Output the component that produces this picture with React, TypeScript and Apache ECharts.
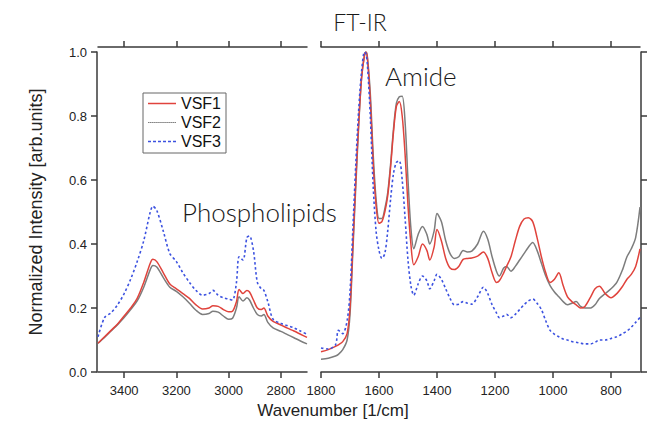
import React, { useEffect, useRef } from "react";
import * as echarts from "echarts";

// ---------- data ----------
const seriesNames = ["VSF1", "VSF2", "VSF3"];

const leftWn = [3500, 3475, 3450, 3425, 3400, 3375, 3350, 3325, 3300, 3290, 3275, 3250, 3225, 3200, 3175, 3150, 3125, 3100, 3075, 3060, 3040, 3020, 3000, 2985, 2970, 2960, 2945, 2930, 2920, 2905, 2890, 2875, 2865, 2850, 2830, 2800, 2775, 2750, 2725, 2700];
const vsf1Left = [0.09, 0.11, 0.13, 0.15, 0.175, 0.2, 0.23, 0.28, 0.34, 0.352, 0.345, 0.31, 0.275, 0.26, 0.245, 0.23, 0.21, 0.197, 0.2, 0.207, 0.205, 0.195, 0.188, 0.19, 0.22, 0.258, 0.245, 0.255, 0.25, 0.225, 0.2, 0.195, 0.2, 0.175, 0.158, 0.147, 0.137, 0.128, 0.118, 0.108];
const vsf2Left = [0.09, 0.108, 0.128, 0.148, 0.17, 0.195, 0.222, 0.265, 0.32, 0.333, 0.328, 0.295, 0.265, 0.252, 0.235, 0.215, 0.193, 0.18, 0.183, 0.19, 0.187, 0.175, 0.165, 0.168, 0.2, 0.235, 0.222, 0.232, 0.225, 0.2, 0.18, 0.175, 0.18, 0.155, 0.138, 0.127, 0.117, 0.107, 0.097, 0.088];
const vsf3Left = [0.11, 0.17, 0.185, 0.21, 0.245, 0.29, 0.345, 0.41, 0.5, 0.518, 0.505, 0.44, 0.37, 0.345, 0.31, 0.28, 0.255, 0.24, 0.245, 0.255, 0.24, 0.232, 0.228, 0.225, 0.28, 0.36, 0.35, 0.42, 0.425, 0.38, 0.28, 0.26, 0.255, 0.22, 0.165, 0.152, 0.145, 0.138, 0.128, 0.118];

const rightWn = [1800, 1775, 1750, 1740, 1725, 1710, 1700, 1690, 1680, 1670, 1660, 1650, 1645, 1640, 1630, 1620, 1610, 1600, 1590, 1580, 1570, 1560, 1550, 1540, 1530, 1520, 1510, 1500, 1490, 1480, 1465, 1450, 1435, 1425, 1410, 1400, 1385, 1370, 1355, 1340, 1325, 1310, 1295, 1280, 1260, 1240, 1225, 1210, 1195, 1185, 1170, 1160, 1145, 1130, 1115, 1100, 1085, 1070, 1055, 1040, 1025, 1010, 995, 980, 965, 950, 935, 920, 905, 890, 870, 855, 840, 820, 800, 780, 760, 745, 730, 715, 700];
const vsf1Right = [0.063, 0.07, 0.08, 0.085, 0.095, 0.12, 0.2, 0.4, 0.6, 0.78, 0.92, 0.99, 1.0, 0.98, 0.85, 0.65, 0.52, 0.465, 0.47, 0.5, 0.55, 0.64, 0.75, 0.83, 0.845, 0.8, 0.68, 0.52, 0.4, 0.335, 0.36, 0.4, 0.38, 0.35, 0.39, 0.445, 0.41, 0.355, 0.325, 0.32, 0.33, 0.352, 0.355, 0.356, 0.362, 0.375, 0.355, 0.31, 0.28, 0.285, 0.31, 0.33, 0.36, 0.41, 0.455, 0.478, 0.482, 0.47, 0.42, 0.36, 0.31, 0.28, 0.29, 0.31, 0.27, 0.235, 0.22, 0.21, 0.2, 0.205, 0.235, 0.26, 0.268, 0.245, 0.232, 0.245, 0.268, 0.29, 0.305, 0.33, 0.385];
const vsf2Right = [0.04, 0.043, 0.05, 0.055, 0.07, 0.1, 0.18, 0.38, 0.58, 0.77, 0.92, 0.99, 1.0, 0.985, 0.87, 0.68, 0.54, 0.48, 0.48, 0.51, 0.56, 0.65, 0.76, 0.84, 0.86, 0.862, 0.78, 0.6, 0.45, 0.385, 0.43, 0.455, 0.43, 0.4, 0.44, 0.495, 0.47, 0.41, 0.37, 0.355, 0.36, 0.38, 0.375, 0.378, 0.4, 0.44, 0.415, 0.36, 0.315, 0.3, 0.325, 0.33, 0.315, 0.33, 0.35, 0.37, 0.39, 0.405, 0.38, 0.34, 0.3, 0.27, 0.25, 0.235, 0.22, 0.21, 0.215, 0.22, 0.205, 0.2, 0.2, 0.21, 0.23, 0.245, 0.26, 0.28, 0.32, 0.36, 0.385, 0.42, 0.515];
const vsf3Right = [0.075, 0.072, 0.085, 0.13, 0.12, 0.16, 0.25, 0.45, 0.65, 0.82, 0.94, 1.0, 0.995, 0.96, 0.8, 0.58, 0.44, 0.38, 0.355, 0.37, 0.44, 0.54, 0.62, 0.655, 0.66, 0.6, 0.48, 0.35, 0.27, 0.24, 0.275, 0.3, 0.285, 0.26, 0.285, 0.305, 0.29, 0.26, 0.23, 0.21, 0.212, 0.22, 0.215, 0.212, 0.235, 0.265, 0.245, 0.21, 0.185, 0.17, 0.175, 0.18, 0.17, 0.18, 0.195, 0.21, 0.222, 0.228, 0.215, 0.195, 0.16, 0.13, 0.118, 0.11, 0.103, 0.1, 0.095, 0.093, 0.09, 0.088, 0.088, 0.093, 0.1, 0.1, 0.105, 0.11, 0.12, 0.128, 0.14, 0.155, 0.17];

const leftTicks = [3400, 3200, 3000, 2800];
const rightTicks = [1800, 1600, 1400, 1200, 1000, 800];

const colors = { VSF1: "#e0433c", VSF2: "#7d7d7d", VSF3: "#3c52e0" };

// ---------- chart ----------
const AXIS_COLOR = "#3a3a3a";
const FONT = "'Liberation Sans', Arial, sans-serif";

const SOLID_ICON = "path://M0,0h28v1.5h-28z";
const DOTTED_ICON = "path://M0,0h1.6v1.2h-1.6z" + Array.from({ length: 13 }, (_, i) => `M${(i + 1) * 2.1},0h1.6v1.2h-1.6z`).join("");
const DASHED_ICON = "path://" + Array.from({ length: 6 }, (_, i) => `M${i * 5},0h3v1.6h-3z`).join("");

function xAxisDef(gridIndex: number, position: "top" | "bottom", min: number, max: number, ticks: number[], showLabels: boolean) {
  return {
    type: "value",
    gridIndex,
    position,
    min,
    max,
    inverse: true,
    offset: position === "top" ? 5 : 2,
    splitLine: { show: false },
    axisLine: { show: true, lineStyle: { color: AXIS_COLOR, width: 1.5 } },
    axisTick: { show: true, inside: false, length: 6, customValues: ticks, lineStyle: { color: AXIS_COLOR, width: 1.5 } },
    axisLabel: {
      show: showLabels,
      customValues: ticks,
      margin: 10,
      fontSize: 13,
      fontFamily: FONT,
      color: "#222",
      formatter: (v: number) => String(v),
    },
  };
}

function pairs(xs: number[], ys: number[]) {
  return xs.map((x, i) => [x, ys[i]]);
}

function lineSeries(name: string, xIdx: number, yIdx: number, data: number[][]) {
  const c = (colors as any)[name];
  return {
    type: "line",
    name,
    xAxisIndex: xIdx,
    yAxisIndex: yIdx,
    data,
    symbol: "none",
    smooth: 0.3,
    clip: true,
    lineStyle: {
      color: c,
      width: name === "VSF3" ? 1.6 : 1.5,
      type: name === "VSF3" ? [2.5, 2.5] : "solid",
    },
    itemStyle: { color: c },
  };
}

export default function App() {
  const ref = useRef<HTMLDivElement>(null);

  useEffect(() => {
    if (!ref.current) return;
    const chart = echarts.init(ref.current, null, { renderer: "svg" });

    const yCommon = {
      type: "value",
      min: 0,
      max: 1,
      interval: 0.2,
      splitLine: { show: false },
      axisLine: { show: true, lineStyle: { color: AXIS_COLOR, width: 1.5 } },
      axisTick: { show: true, inside: false, length: 6, lineStyle: { color: AXIS_COLOR, width: 1.5 } },
    };

    const option = {
      animation: false,
      backgroundColor: "#fff",
      grid: [
        { left: 98, top: 52, width: 209, height: 320 },
        { left: 321, top: 52, width: 319, height: 320 },
      ],
      xAxis: [
        xAxisDef(0, "bottom", 2700, 3500, leftTicks, true),
        xAxisDef(0, "top", 2700, 3500, leftTicks, false),
        xAxisDef(1, "bottom", 700, 1800, rightTicks, true),
        xAxisDef(1, "top", 700, 1800, rightTicks, false),
      ],
      yAxis: [
        {
          ...yCommon,
          gridIndex: 0,
          position: "left",
          offset: 1,
          name: "Normalized Intensity [arb.units]",
          nameLocation: "middle",
          nameGap: 52,
          nameTextStyle: { fontSize: 18, fontFamily: FONT, color: "#222" },
          axisLabel: {
            show: true,
            margin: 10,
            fontSize: 13,
            fontFamily: FONT,
            color: "#222",
            formatter: (v: number) => v.toFixed(1),
          },
        },
        {
          ...yCommon,
          gridIndex: 1,
          position: "right",
          offset: 1,
          axisLabel: { show: false },
        },
      ],
      legend: {
        data: [
          { name: "VSF1", icon: SOLID_ICON },
          { name: "VSF2", icon: DOTTED_ICON },
          { name: "VSF3", icon: DASHED_ICON },
        ],
        orient: "vertical",
        left: 143,
        top: 93,
        itemWidth: 28,
        itemHeight: 1.6,
        itemGap: 2,
        padding: [2, 5, 3, 5],
        borderColor: "#666",
        borderWidth: 1,
        backgroundColor: "#fff",
        textStyle: { fontSize: 16, fontFamily: FONT, color: "#111", lineHeight: 17 },
        selectedMode: false,
      },
      graphic: [
        {
          type: "text",
          x: 360,
          y: 22,
          style: { text: "FT-IR", font: "300 23px Lato, 'Open Sans', sans-serif", fill: "#1a1a1a", textAlign: "center", textVerticalAlign: "middle" },
        },
        {
          type: "text",
          x: 385,
          y: 76,
          style: { text: "Amide", font: "300 26px Lato, 'Open Sans', sans-serif", fill: "#1a1a1a", textAlign: "left", textVerticalAlign: "middle" },
        },
        {
          type: "text",
          x: 182,
          y: 212,
          style: { text: "Phospholipids", font: "300 26px Lato, 'Open Sans', sans-serif", fill: "#1a1a1a", textAlign: "left", textVerticalAlign: "middle" },
        },
        {
          type: "text",
          x: 333,
          y: 410,
          style: { text: "Wavenumber [1/cm]", font: "17px 'Liberation Sans', Arial, sans-serif", fill: "#222", textAlign: "center", textVerticalAlign: "middle" },
        },
      ],
      series: [
        lineSeries("VSF2", 0, 0, pairs(leftWn, vsf2Left)),
        lineSeries("VSF1", 0, 0, pairs(leftWn, vsf1Left)),
        lineSeries("VSF3", 0, 0, pairs(leftWn, vsf3Left)),
        lineSeries("VSF2", 2, 1, pairs(rightWn, vsf2Right)),
        lineSeries("VSF1", 2, 1, pairs(rightWn, vsf1Right)),
        lineSeries("VSF3", 2, 1, pairs(rightWn, vsf3Right)),
      ],
    };

    chart.setOption(option as any);
    return () => chart.dispose();
  }, []);

  return <div ref={ref} style={{ width: 655, height: 424, position: "absolute", left: 0, top: 0 }} />;
}
